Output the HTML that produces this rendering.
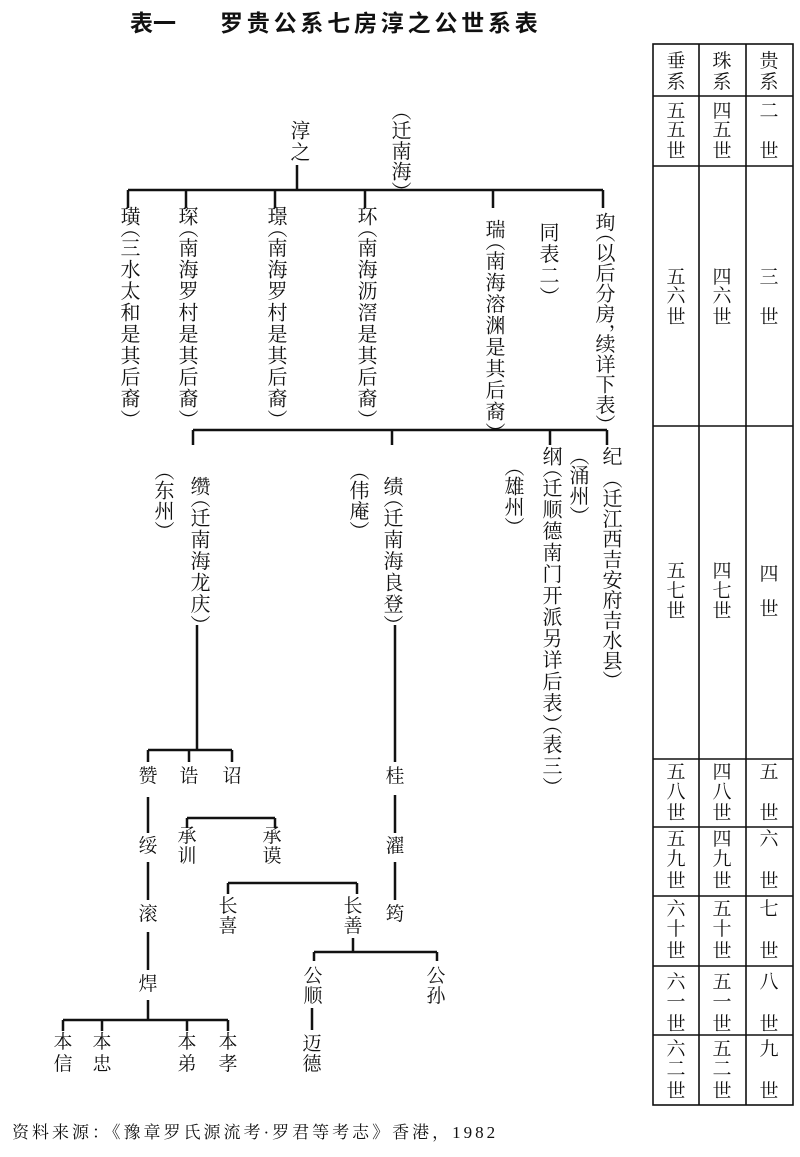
<!DOCTYPE html>
<html><head><meta charset="utf-8">
<style>
html,body{margin:0;padding:0;background:#fff;}
#w{position:relative;width:800px;height:1157px;overflow:hidden;background:#fff;color:#111;font-family:"Liberation Serif","Noto Serif CJK SC","Noto Sans CJK SC",serif;}
.v{position:absolute;writing-mode:vertical-rl;text-orientation:upright;font-size:20px;line-height:20px;width:20px;letter-spacing:1.5px;white-space:nowrap;}
.v b{font-weight:normal;font-feature-settings:"vpal" 1;letter-spacing:0;}
.s{letter-spacing:0.5px;}
.c{position:absolute;width:22px;height:22px;text-align:center;line-height:22px;font-size:19px;}
svg{position:absolute;left:0;top:0;}
</style></head><body><div id="w">
<svg width="800" height="1157">
<g stroke="#111" stroke-width="2.5" fill="none">
<path d="M297 165V190M128 190H603M128 190V208M186 190V208M275 190V208M365 190V208M493 190V208M603 190V208"/>
<path d="M193 430H607M193 430V445M392 430V445M550 430V445M607 430V445"/>
<path d="M197 625V750M148 750H232M148 750V762M189 750V762M232 750V762"/>
<path d="M395 625V762M395 795V833M395 862V900"/>
<path d="M148 797V833M148 862V900M148 932V970M148 1000V1020M63 1020H228M63 1020V1031M102 1020V1031M187 1020V1031M228 1020V1031"/>
<path d="M187 818H275M187 818V828M275 818V828"/>
<path d="M228 883H357M228 883V894M357 883V894"/>
<path d="M353 938V952M314 952H437M314 952V961M437 952V961M312 1008V1030"/>
</g>
<g stroke="#111" stroke-width="1.6" fill="none">
<rect x="653" y="44" width="140" height="1061"/>
<path d="M699 44V1105M746 44V1105M653 96H793M653 166H793M653 426H793M653 759H793M653 827H793M653 896H793M653 966H793M653 1035H793"/>
</g>
</svg>
<div style="position:absolute;left:130px;top:8px;font-family:'Liberation Sans','Noto Sans CJK SC',sans-serif;font-weight:bold;font-size:23px;line-height:30px;white-space:nowrap;">表一<span style="display:inline-block;width:44px"></span><span style="letter-spacing:3.8px">罗贵公系七房淳之公世系表</span></div>

<div class="v" style="left:288px;top:120px;">淳之</div>
<div class="v s" style="left:389px;top:110px;"><b>（</b>迁南海<b>）</b></div>

<div class="v" style="left:118px;top:206px;">璜<b>（</b>三水太和是其后裔<b>）</b></div>
<div class="v" style="left:176px;top:206px;">琛<b>（</b>南海罗村是其后裔<b>）</b></div>
<div class="v" style="left:265px;top:206px;">璟<b>（</b>南海罗村是其后裔<b>）</b></div>
<div class="v" style="left:355px;top:206px;">环<b>（</b>南海沥滘是其后裔<b>）</b></div>
<div class="v" style="left:483px;top:219px;">瑞<b>（</b>南海溶渊是其后裔<b>）</b></div>
<div class="v" style="left:537px;top:222px;">同表二<b>）</b></div>
<div class="v" style="left:593px;top:212px;letter-spacing:0.3px">珣<b>（</b>以后分房<b>，</b>续详下表<b>）</b></div>

<div class="v" style="left:188px;top:476px;">缵<b>（</b>迁南海龙庆<b>）</b></div>
<div class="v s" style="left:152px;top:470px;"><b>（</b>东州<b>）</b></div>
<div class="v" style="left:381px;top:476px;">绩<b>（</b>迁南海良登<b>）</b></div>
<div class="v s" style="left:347px;top:470px;"><b>（</b>伟庵<b>）</b></div>
<div class="v" style="left:540px;top:446px;">纲<b>（</b>迁顺德南门开派另详后表<b>）（</b>表三<b>）</b></div>
<div class="v s" style="left:567px;top:455px;"><b>（</b>涌州<b>）</b></div>
<div class="v s" style="left:502px;top:466px;"><b>（</b>雄州<b>）</b></div>
<div class="v" style="left:600px;top:446px;">纪</div>
<div class="v" style="left:600px;top:478px;letter-spacing:0.3px"><b>（</b>迁江西吉安府吉水县<b>）</b></div>

<div class="c" style="left:137px;top:766px;">赞</div>
<div class="c" style="left:178px;top:766px;">诰</div>
<div class="c" style="left:221px;top:766px;">诏</div>
<div class="c" style="left:137px;top:836px;">绥</div>
<div class="c" style="left:137px;top:904px;">滚</div>
<div class="c" style="left:137px;top:974px;">焊</div>
<div class="c" style="left:52px;top:1032px;">本</div><div class="c" style="left:52px;top:1054px;">信</div>
<div class="c" style="left:91px;top:1032px;">本</div><div class="c" style="left:91px;top:1054px;">忠</div>
<div class="c" style="left:176px;top:1032px;">本</div><div class="c" style="left:176px;top:1054px;">弟</div>
<div class="c" style="left:217px;top:1032px;">本</div><div class="c" style="left:217px;top:1054px;">孝</div>
<div class="c" style="left:176px;top:826px;">承</div><div class="c" style="left:176px;top:846px;">训</div>
<div class="c" style="left:261px;top:826px;">承</div><div class="c" style="left:261px;top:846px;">谟</div>
<div class="c" style="left:217px;top:896px;">长</div><div class="c" style="left:217px;top:916px;">喜</div>
<div class="c" style="left:342px;top:896px;">长</div><div class="c" style="left:342px;top:916px;">善</div>
<div class="c" style="left:302px;top:966px;">公</div><div class="c" style="left:302px;top:986px;">顺</div>
<div class="c" style="left:425px;top:966px;">公</div><div class="c" style="left:425px;top:986px;">孙</div>
<div class="c" style="left:301px;top:1034px;">迈</div><div class="c" style="left:301px;top:1054px;">德</div>
<div class="c" style="left:384px;top:766px;">桂</div>
<div class="c" style="left:384px;top:836px;">濯</div>
<div class="c" style="left:384px;top:904px;">筠</div>

<div class="c" style="left:665px;top:51px;">垂</div><div class="c" style="left:665px;top:72px;">系</div>
<div class="c" style="left:711px;top:51px;">珠</div><div class="c" style="left:711px;top:72px;">系</div>
<div class="c" style="left:758px;top:51px;">贵</div><div class="c" style="left:758px;top:72px;">系</div>

<div class="c" style="left:665px;top:101px;">五</div><div class="c" style="left:665px;top:120px;">五</div><div class="c" style="left:665px;top:141px;">世</div>
<div class="c" style="left:711px;top:101px;">四</div><div class="c" style="left:711px;top:120px;">五</div><div class="c" style="left:711px;top:141px;">世</div>
<div class="c" style="left:758px;top:101px;">二</div><div class="c" style="left:758px;top:141px;">世</div>

<div class="c" style="left:665px;top:267px;">五</div><div class="c" style="left:665px;top:286px;">六</div><div class="c" style="left:665px;top:307px;">世</div>
<div class="c" style="left:711px;top:267px;">四</div><div class="c" style="left:711px;top:286px;">六</div><div class="c" style="left:711px;top:307px;">世</div>
<div class="c" style="left:758px;top:267px;">三</div><div class="c" style="left:758px;top:307px;">世</div>

<div class="c" style="left:665px;top:561px;">五</div><div class="c" style="left:665px;top:581px;">七</div><div class="c" style="left:665px;top:601px;">世</div>
<div class="c" style="left:711px;top:561px;">四</div><div class="c" style="left:711px;top:581px;">七</div><div class="c" style="left:711px;top:601px;">世</div>
<div class="c" style="left:758px;top:564px;">四</div><div class="c" style="left:758px;top:599px;">世</div>

<div class="c" style="left:665px;top:762px;">五</div><div class="c" style="left:665px;top:782px;">八</div><div class="c" style="left:665px;top:803px;">世</div>
<div class="c" style="left:711px;top:762px;">四</div><div class="c" style="left:711px;top:782px;">八</div><div class="c" style="left:711px;top:803px;">世</div>
<div class="c" style="left:758px;top:762px;">五</div><div class="c" style="left:758px;top:803px;">世</div>

<div class="c" style="left:665px;top:829px;">五</div><div class="c" style="left:665px;top:849px;">九</div><div class="c" style="left:665px;top:871px;">世</div>
<div class="c" style="left:711px;top:829px;">四</div><div class="c" style="left:711px;top:849px;">九</div><div class="c" style="left:711px;top:871px;">世</div>
<div class="c" style="left:758px;top:829px;">六</div><div class="c" style="left:758px;top:871px;">世</div>

<div class="c" style="left:665px;top:899px;">六</div><div class="c" style="left:665px;top:919px;">十</div><div class="c" style="left:665px;top:941px;">世</div>
<div class="c" style="left:711px;top:899px;">五</div><div class="c" style="left:711px;top:919px;">十</div><div class="c" style="left:711px;top:941px;">世</div>
<div class="c" style="left:758px;top:899px;">七</div><div class="c" style="left:758px;top:941px;">世</div>

<div class="c" style="left:665px;top:972px;">六</div><div class="c" style="left:665px;top:992px;">一</div><div class="c" style="left:665px;top:1014px;">世</div>
<div class="c" style="left:711px;top:972px;">五</div><div class="c" style="left:711px;top:992px;">一</div><div class="c" style="left:711px;top:1014px;">世</div>
<div class="c" style="left:758px;top:972px;">八</div><div class="c" style="left:758px;top:1014px;">世</div>

<div class="c" style="left:665px;top:1039px;">六</div><div class="c" style="left:665px;top:1059px;">二</div><div class="c" style="left:665px;top:1081px;">世</div>
<div class="c" style="left:711px;top:1039px;">五</div><div class="c" style="left:711px;top:1059px;">二</div><div class="c" style="left:711px;top:1081px;">世</div>
<div class="c" style="left:758px;top:1039px;">九</div><div class="c" style="left:758px;top:1081px;">世</div>

<div style="position:absolute;left:12px;top:1122px;font-size:17px;line-height:22px;letter-spacing:3px;white-space:nowrap;">资料来源：《豫章罗氏源流考·罗君等考志》香港，1982</div>
</div></body></html>
